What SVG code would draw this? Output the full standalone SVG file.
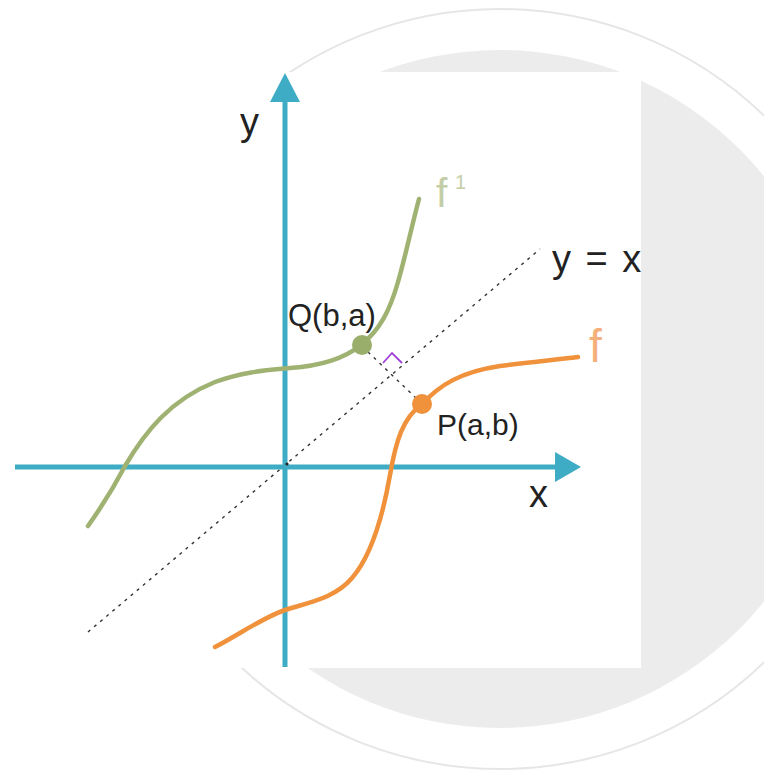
<svg xmlns="http://www.w3.org/2000/svg" width="764" height="770" viewBox="0 0 764 770">
<defs>
<style>
.txt{font-family:"Liberation Sans",Arial,sans-serif;fill:#222}
.axis{stroke:#3eacc4;stroke-width:5;fill:none}
.arrow{fill:#3eacc4}
.dash{stroke:#333;stroke-width:1.4;stroke-dasharray:3 5;fill:none}
</style>
</defs>
<rect width="764" height="770" fill="#ffffff"/>
<g id="background">
<circle cx="500" cy="389" r="380" fill="none" stroke="#e6e6e6" stroke-width="2"/>
<circle cx="500" cy="389" r="339" fill="#ececec"/>
<rect x="0" y="72" width="641" height="596" fill="#ffffff"/>
</g>
<g id="connectors">
<line class="dash" x1="88" y1="632" x2="540" y2="249"/>
<line class="dash" x1="368" y1="352" x2="418" y2="400"/>
<polyline points="383,363 392,353 402,363" fill="none" stroke="#a040d8" stroke-width="1.8"/>
</g>
<g id="axes">
<line class="axis" x1="285" y1="98" x2="285" y2="667"/>
<polygon class="arrow" points="285,73 270,102 300,102"/>
<line class="axis" x1="15" y1="467" x2="558" y2="467"/>
<polygon class="arrow" points="581,467 555,452 555,482"/>
<text class="txt" x="240" y="135" font-size="38">y</text>
<text class="txt" x="529" y="507" font-size="38">x</text>
<circle cx="287" cy="464" r="1.6" fill="#222"/>
</g>
<g id="curve-f-inverse">
<path d="M88,526 C105,502 115,485 125,466 C145,432 170,400 215,382 C245,371 270,370 290,368 C320,366 345,358 361,345 C380,330 390,310 398,282 C405,258 412,225 419,199" fill="none" stroke="#a0b272" stroke-width="4.5" stroke-linecap="round"/>
<text x="436" y="207" font-size="41" font-family="Liberation Sans, Arial, sans-serif" fill="#c4cea6">f<tspan x="455" y="189" font-size="20">1</tspan></text>
</g>
<g id="curve-f">
<path d="M215,647 C240,634 262,618 285,610 C310,602 335,598 352,578 C372,555 383,515 390,475 C396,440 403,418 422,404 C440,385 460,372 500,366 C530,362 555,360 578,357" fill="none" stroke="#f0913c" stroke-width="4.5" stroke-linecap="round"/>
<text x="589" y="362" font-size="46" font-family="Liberation Sans, Arial, sans-serif" fill="#f4b07a">f</text>
</g>
<g id="line-y-eq-x">
<text class="txt" x="552" y="272" font-size="38" word-spacing="4">y = x</text>
</g>
<g id="point-Q">
<circle cx="362" cy="345" r="10" fill="#9aae6c"/>
<text class="txt" x="288" y="326" font-size="31">Q(b,a)</text>
</g>
<g id="point-P">
<circle cx="422" cy="404" r="10" fill="#f0913c"/>
<text class="txt" x="437" y="435" font-size="30">P(a,b)</text>
</g>
</svg>
